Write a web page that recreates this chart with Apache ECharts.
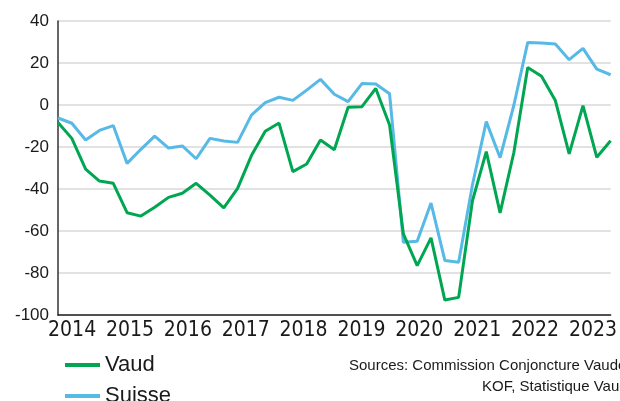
<!DOCTYPE html>
<html>
<head>
<meta charset="utf-8">
<script src="https://cdn.jsdelivr.net/npm/echarts@6/dist/echarts.min.js"></script>
<style>
  html, body { margin: 0; padding: 0; background: #fff; }
  #chart { width: 620px; height: 401px; }
</style>
</head>
<body>
<div id="chart"></div>
<script>
// trimestres 2014 T1 -> 2024 T1
const quarters = [
  "2014T1","2014T2","2014T3","2014T4","2015T1","2015T2","2015T3","2015T4",
  "2016T1","2016T2","2016T3","2016T4","2017T1","2017T2","2017T3","2017T4",
  "2018T1","2018T2","2018T3","2018T4","2019T1","2019T2","2019T3","2019T4",
  "2020T1","2020T2","2020T3","2020T4","2021T1","2021T2","2021T3","2021T4",
  "2022T1","2022T2","2022T3","2022T4","2023T1","2023T2","2023T3","2023T4",
  "2024T1"
];
const vaud = [
  -8.3, -15.9, -30.5, -36.2, -37.3, -51.3, -52.9, -48.7,
  -44, -42, -37.3, -42.9, -49, -39.7, -24.1, -12.5,
  -8.6, -31.7, -28.1, -16.7, -21.3, -1.1, -0.8, 7.9,
  -9.5, -61.4, -76.5, -63.3, -92.9, -91.6, -45.6, -22.2,
  -51.4, -22.5, 17.9, 13.7, 2.1, -23.3, -0.3, -24.9,
  -17
];
const suisse = [
  -6.2, -8.7, -16.7, -12.1, -9.8, -27.8, -21.1, -14.8,
  -20.5, -19.5, -25.6, -15.9, -17.1, -17.8, -4.8, 1.1,
  3.7, 2.2, 7.1, 12.2, 5.1, 1.6, 10.2, 10,
  5.4, -65.4, -64.9, -46.7, -74, -74.9, -38, -7.9,
  -25.1, 0, 29.8, 29.5, 29, 21.6, 27, 17.1,
  14.4
];
const years = [2014, 2015, 2016, 2017, 2018, 2019, 2020, 2021, 2022, 2023];

const chart = echarts.init(document.getElementById("chart"));
const font = "'Liberation Sans', Arial, sans-serif";

// une légende par ligne, empilées
const legendBase = {
  left: 60,
  icon: "rect",
  itemWidth: 35,
  itemHeight: 4,
  textStyle: { fontFamily: font, fontSize: 22, color: "#1a1a1a" }
};

chart.setOption({
  animation: false,
  grid: { left: 58, right: 7, top: 21, bottom: 86 },
  legend: [
    Object.assign({ data: ["Vaud"], top: 349 }, legendBase),
    Object.assign({ data: ["Suisse"], top: 380 }, legendBase)
  ],
  xAxis: [
    {
      type: "category",
      data: quarters,
      boundaryGap: false,
      axisLine: { onZero: false, lineStyle: { color: "#222", width: 1.5 } },
      axisTick: { show: false },
      axisLabel: { show: false },
      splitLine: { show: false }
    },
    {
      // axe des années, seulement pour les libellés
      type: "value",
      position: "bottom",
      min: 2013.756,
      max: 2023.305,
      axisLine: { show: false },
      axisTick: { show: false },
      splitLine: { show: false },
      axisLabel: {
        customValues: years,
        formatter: (v) => String(Math.round(v)),
        margin: 5,
        fontFamily: "'Liberation Sans Narrow', 'DejaVu Sans Condensed', sans-serif",
        fontSize: 21,
        color: "#1a1a1a"
      }
    }
  ],
  yAxis: {
    type: "value",
    min: -100,
    max: 40,
    interval: 20,
    axisLine: { show: true, lineStyle: { color: "#333", width: 1.5 } },
    axisTick: { show: false },
    axisLabel: { margin: 9, fontFamily: font, fontSize: 17, color: "#1a1a1a" },
    splitLine: { lineStyle: { color: "#d8d8d8", width: 1.5 } }
  },
  series: [
    {
      name: "Suisse",
      type: "line",
      data: suisse,
      symbol: "none",
      color: "#56b9e6",
      lineStyle: { width: 3 }
    },
    {
      name: "Vaud",
      type: "line",
      data: vaud,
      symbol: "none",
      color: "#00a651",
      lineStyle: { width: 3 }
    }
  ],
  graphic: [
    {
      type: "text",
      left: 349,
      top: 358,
      style: { text: "Sources: Commission Conjoncture Vaudoise,", font: "15px " + font, fill: "#1a1a1a" }
    },
    {
      type: "text",
      left: 482,
      top: 379,
      style: { text: "KOF, Statistique Vaud", font: "15px " + font, fill: "#1a1a1a" }
    }
  ]
});
</script>
</body>
</html>
